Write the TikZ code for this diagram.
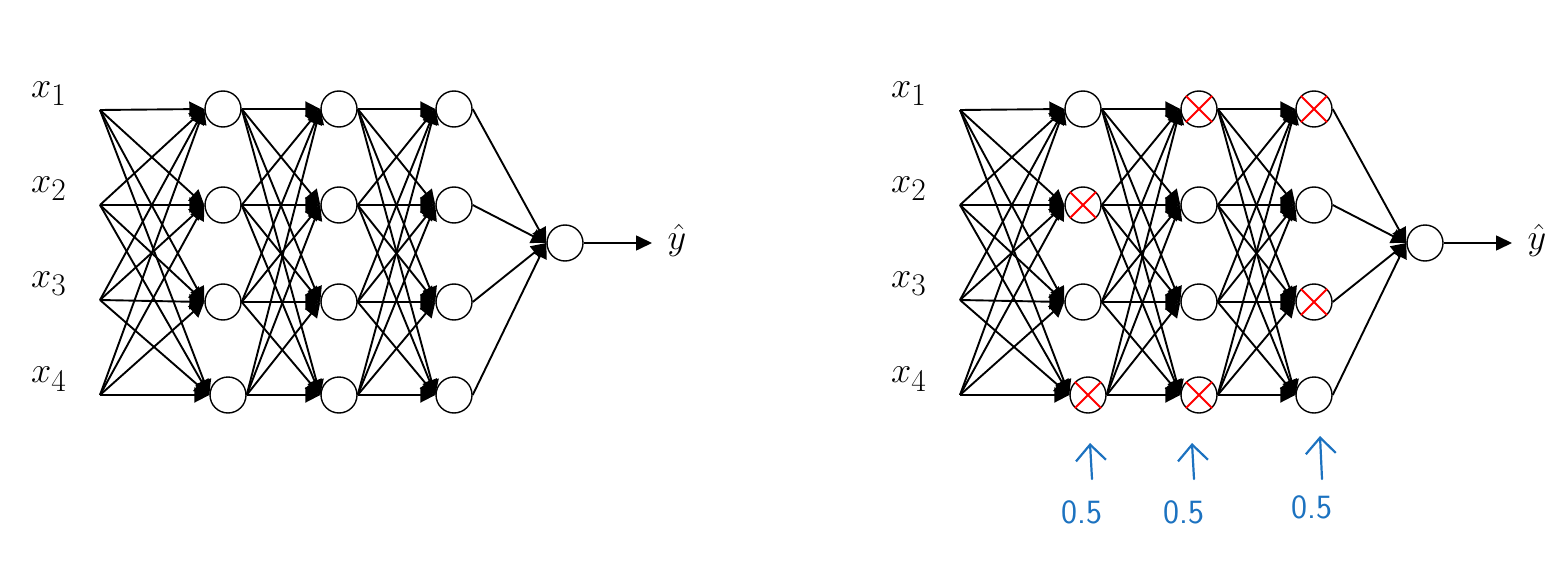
\documentclass[tikz,border=0pt]{standalone}
\usepackage{fix-cm}
\usepackage{tikz}
\usepackage{amsmath}
\usetikzlibrary{
  arrows.meta,
  positioning,
  calc
}
\definecolor{nnLine}{HTML}{000000}
\definecolor{nnDrop}{HTML}{FF0000}
\definecolor{nnInk}{HTML}{1C72C0}
\tikzset{
  neuron/.style={
    draw, circle, minimum size=36pt, inner sep=0pt, line width=1.4pt, fill=white
  },
  syn/.style={-{Triangle[length=15pt, width=15pt]}, line width=1.9pt, nnLine},
  outarrow/.style={-{Triangle[length=16pt, width=15pt]}, line width=1.6pt, nnLine},
  dropmark/.style={line width=2pt, nnDrop},
  inlabel/.style={font=\fontsize{20.74}{25}\selectfont, inner sep=0pt, scale=1.75},
  keepprob/.style={font=\fontsize{34}{40}\selectfont\sffamily, text=nnInk, inner sep=0pt},
  handarrow/.style={-{Straight Barb[length=16pt, width=30pt]}, line width=2.2pt, line cap=round, nnInk}
}

\begin{document}
\begin{tikzpicture}[x=1pt, y=-1pt]
  \useasboundingbox (0,0) rectangle (1565,580);
  % plain network (L) and dropout network (R)
  \foreach \net/\dx in {L/0, R/860} {
    \foreach \i/\y in {1/110, 2/205, 3/300, 4/395} {
      \coordinate (\net-x\i) at (100+\dx, \y);
      \node[inlabel] (\net-lab\i) at (49+\dx, \y-16) {$x_{\text{\fontsize{18}{20}\selectfont\i}}$};
    }
    \foreach \i/\y/\s in {1/109/0, 2/205/0, 3/302/0, 4/395/5} {
      \node[neuron] (\net-a\i) at (223+\s+\dx, \y) {};
      \node[neuron] (\net-b\i) at (339+\dx, \y) {};
      \node[neuron] (\net-c\i) at (454+\dx, \y) {};
    }
    \node[neuron] (\net-out) at (565+\dx, 243) {};
    \coordinate (\net-yend) at (652+\dx, 243);
    \node[inlabel] (\net-yhat) at (677+\dx, 240) {$\hat{y}$};
    \foreach \i in {1,...,4} {
      \foreach \j in {1,...,4} {
        \draw[syn] (\net-x\i) -- (\net-a\j.west);
        \draw[syn] (\net-a\i.east) -- (\net-b\j.west);
        \draw[syn] (\net-b\i.east) -- (\net-c\j.west);
      }
      \draw[syn] (\net-c\i.east) -- (\net-out.west);
    }
    \draw[outarrow] (\net-out) -- (\net-yend);
  }
  % dropped units
  \foreach \n in {R-a2, R-a4, R-b1, R-b4, R-c1, R-c3}
    \draw[dropmark] (\n.45) -- (\n.225) (\n.135) -- (\n.-45);
  % keep probabilities
  \foreach \k/\x/\top/\ly in {1/1090/443/512, 2/1192/443/512, 3/1320/436/507} {
    \node[keepprob] (keep\k) at (\x-8, \ly) {0.5};
    \coordinate (tail\k) at (\x+2, 479);
    \coordinate (tip\k) at (\x, \top);
    \draw[handarrow] (tail\k) -- (tip\k);
  }
\end{tikzpicture}
\end{document}
